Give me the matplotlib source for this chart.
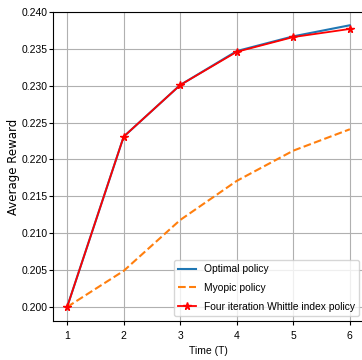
import matplotlib
matplotlib.use("Agg")
import matplotlib.pyplot as plt

# -----------------------------
# Datos
# -----------------------------
T = [1, 2, 3, 4, 5, 6]
optimal = [0.2000, 0.2231, 0.2301, 0.2347, 0.2367, 0.2382]
myopic = [0.2000, 0.2049, 0.2118, 0.2171, 0.2212, 0.2241]
whittle = [0.2000, 0.2231, 0.2301, 0.2346, 0.2366, 0.2377]
yticks = [0.200, 0.205, 0.210, 0.215, 0.220, 0.225, 0.230, 0.235, 0.240]

narrow = ["Liberation Sans", "DejaVu Sans"]

fig = plt.figure(figsize=(3.62, 3.60), dpi=100)
ax = fig.add_axes([0.1464, 0.1083, 0.8591, 0.8584])

ax.plot(T, optimal, color="#1f77b4", lw=1.5, label="Optimal policy")
ax.plot(T, myopic, color="#ff7f0e", lw=1.5, ls="--", label="Myopic policy")
ax.plot(T, whittle, color="red", lw=1.3, marker="*", ms=5.5,
        label="Four iteration Whittle index policy")

ax.set_xlim(0.75, 6.25)
ax.set_ylim(0.19810, 0.2400)
ax.set_xticks(T)
ax.set_yticks(yticks)
ax.set_yticklabels([f"{v:.3f}" for v in yticks])
ax.grid(True, color="#b0b0b0", lw=0.8)

for lab in ax.get_xticklabels() + ax.get_yticklabels():
    lab.set_fontsize(7.5)
    lab.set_family(narrow)
ax.tick_params(axis="y", length=3, width=0.8, pad=1)
ax.tick_params(axis="x", length=3, width=0.8, pad=4)

ax.set_xlabel("Time (T)", fontsize=7.5, family=narrow, labelpad=4)
ax.set_ylabel("Average Reward", fontsize=8.5, labelpad=1)

ax.legend(loc="lower right", prop={"size": 7.4, "family": narrow},
          framealpha=0.8, borderaxespad=0.5, handlelength=1.7,
          labelspacing=0.85)

fig.savefig("out.png", dpi=100)
